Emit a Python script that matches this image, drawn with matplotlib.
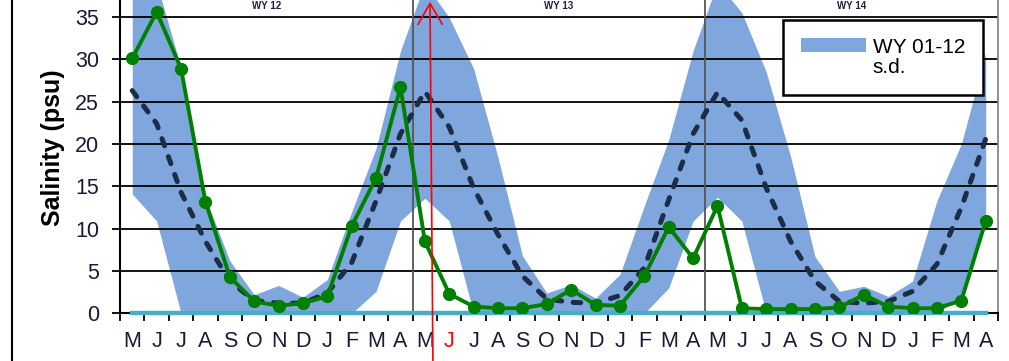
import numpy as np
import matplotlib
matplotlib.use('Agg')
import matplotlib.pyplot as plt
from matplotlib.patches import Patch
from matplotlib.lines import Line2D
from matplotlib.transforms import blended_transform_factory

plt.rcParams['font.family'] = ['Liberation Sans', 'DejaVu Sans']

# month labels, May through April, three water years
months = list('MJJASONDJFMA') * 3
year_titles = ['WY 12', 'WY 13', 'WY 14']

# observed monthly salinity (psu)
observed = [30.1, 35.6, 28.9, 13.2, 4.3, 1.4, 0.9, 1.2, 2.0, 10.3, 16.0, 26.7,
            8.5, 2.3, 0.8, 0.6, 0.6, 1.1, 2.8, 1.0, 0.9, 4.4, 10.2, 6.5,
            12.7, 0.6, 0.5, 0.5, 0.5, 0.7, 2.2, 0.8, 0.6, 0.6, 1.5, 10.9]

# WY 01-12 mean and +/- s.d. envelope
mean = [26.3, 22.4, 14.3, 8.5, 3.8, 1.5, 1.2, 1.2, 2.4, 6.0, 13.3, 21.2,
        26.2, 22.0, 14.8, 9.3, 4.4, 1.7, 1.3, 1.2, 2.1, 5.4, 13.4, 21.2,
        26.1, 22.8, 14.8, 8.5, 3.8, 1.4, 1.2, 1.4, 2.6, 5.8, 12.5, 20.6]
sd_upper = [39, 39, 29.0, 13.7, 6.2, 2.2, 3.3, 1.9, 4.0, 12.0, 19.5, 31.0,
            39, 34.9, 28.9, 18.4, 6.8, 2.4, 3.4, 1.8, 4.6, 12.7, 20.5, 31.0,
            39, 35.5, 28.5, 18.5, 6.7, 2.6, 3.2, 2.0, 3.8, 13.3, 20.0, 30.7]
sd_lower = [14.1, 10.9, 0, 0, 0, 0, 0, 0, 0, 0, 2.6, 10.9,
            13.6, 10.9, 0, 0, 0, 0, 0, 0, 0, 0, 3.0, 10.9,
            13.7, 10.9, 0, 0, 0, 0, 0, 0, 0, 0, 2.0, 10.9]
baseline = [0] * 36

x = np.arange(len(months))

fig = plt.figure(figsize=(10.09, 3.61), dpi=100)
ax = fig.add_axes([0.119, 0.132, 0.870, 0.868])

band_color = '#7FA7DD'
ax.fill_between(x, sd_lower, sd_upper, color=band_color, lw=0, zorder=0.3)
ax.plot(x, mean, color='#1C2D48', lw=3.6, dashes=(1.5, 2.3),
        dash_capstyle='round', zorder=3)
ax.plot(x, baseline, color='#4BACC6', lw=3.2, zorder=3.5, clip_on=False)
ax.plot(x, observed, color='#008000', lw=2.8, marker='o', markersize=8.5,
        zorder=4)

# horizontal grid
ax.set_axisbelow(True)
ax.yaxis.grid(True, color='black', lw=1.3)
ax.set_ylim(0, 37)
ax.set_yticks(np.arange(0, 36, 5))

# year separators
for b in [11.5, 23.5]:
    ax.axvline(b, color='#555555', lw=1.3, zorder=0.6)

ax.set_xlim(-0.5, 35.5)
ax.set_xticks(np.arange(-0.5, 36, 1))
ax.set_xticklabels([])
ax.set_xticks(x, minor=True)
ax.set_xticklabels(months, minor=True)
ax.tick_params(axis='x', which='major', length=6, width=1.3, direction='out')
ax.tick_params(axis='x', which='minor', length=0, pad=13, labelsize=15.5,
               labelcolor='#1a1a38')
ax.tick_params(axis='y', length=6, width=1.3, direction='out', pad=9,
               labelsize=15.5, labelcolor='#1a1a38')
ax.get_xticklabels(minor=True)[13].set_color('red')

for s in ['left', 'bottom']:
    ax.spines[s].set_linewidth(1.5)
ax.spines['top'].set_visible(False)
ax.spines['right'].set_color('#888888')
ax.spines['right'].set_linewidth(1.3)

ax.set_ylabel('Salinity (psu)', fontsize=18, fontweight='bold')
ax.yaxis.set_label_coords(-0.063, 0.53)

# year titles squeezed into the strip along the top edge
top_trans = blended_transform_factory(ax.transData, fig.transFigure)
for i, t in enumerate(year_titles):
    ax.text(5.5 + 12 * i, 0.998, t, transform=top_trans, ha='center',
            va='top', fontsize=7, fontweight='bold', color='#1f2040')

# legend
handles = [Patch(facecolor=band_color, edgecolor='none'),
           Patch(facecolor='none', edgecolor='none')]
leg = ax.legend(handles, ['WY 01-12', 's.d.'], loc='upper right',
                bbox_to_anchor=(0.983, 0.936), fontsize=15, frameon=True,
                fancybox=False, edgecolor='black', framealpha=1,
                borderpad=0.85, handlelength=3.1, handleheight=0.65,
                handletextpad=0.35, labelspacing=0.05, borderaxespad=0)
leg.get_frame().set_linewidth(1.8)
leg.set_zorder(5)

# red arrow pointing up at June
ax.annotate('', xy=(12.21, 0.995), xycoords=('data', 'figure fraction'),
            xytext=(12.33, 0.0), textcoords=('data', 'figure fraction'),
            arrowprops=dict(arrowstyle='->,head_length=0.6,head_width=0.35',
                            color='red', lw=1.2, mutation_scale=25,
                            shrinkA=0, shrinkB=0),
            annotation_clip=False, zorder=6)

# left frame line
fig.add_artist(Line2D([12 / 1009, 12 / 1009], [0, 1], color='black', lw=1.5,
                      transform=fig.transFigure))

fig.savefig('out.png', dpi=100)
